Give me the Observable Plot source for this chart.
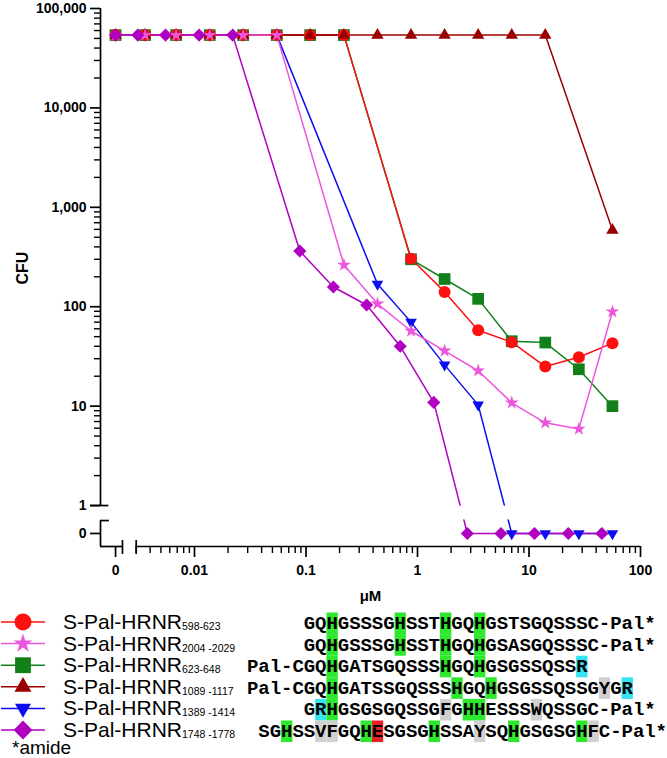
<!DOCTYPE html>
<html><head><meta charset="utf-8">
<script src="https://cdn.jsdelivr.net/npm/d3@7"></script>
<script src="https://cdn.jsdelivr.net/npm/@observablehq/plot@0.6"></script>
<style>
body{margin:0;background:#fff;}
#wrap{width:667px;height:758px;overflow:hidden;background:#fff;}
svg{display:block;}
</style></head><body><div id="wrap"></div>
<script>
// ---------- data ----------
const conc598  = [0, 0.0036, 0.00684, 0.0137, 0.0273, 0.0547, 0.109, 0.219, 0.875, 1.75, 3.5, 7, 14, 28, 56];
const cfu598   = [54000, 54000, 54000, 54000, 54000, 54000, 54000, 54000, 304, 141, 58, 44, 25, 31, 43];
const conc2004 = [0, 0.0036, 0.00684, 0.0137, 0.0273, 0.0547, 0.219, 0.4375, 0.875, 1.75, 3.5, 7, 14, 28, 56];
const cfu2004  = [54000, 54000, 54000, 54000, 54000, 54000, 263, 107, 57, 36, 22.7, 10.8, 6.8, 5.9, 89];
const conc623  = [0, 0.0036, 0.00684, 0.0137, 0.0273, 0.0547, 0.109, 0.219, 0.875, 1.75, 3.5, 7, 14, 28, 56];
const cfu623   = [54000, 54000, 54000, 54000, 54000, 54000, 54000, 54000, 300, 190, 120, 45, 43.6, 23.5, 10];
const conc1089 = [0, 0.0036, 0.00684, 0.0137, 0.0273, 0.0547, 0.109, 0.219, 0.4375, 0.875, 1.75, 3.5, 7, 14, 56];
const cfu1089  = [54000, 54000, 54000, 54000, 54000, 54000, 54000, 54000, 54000, 54000, 54000, 54000, 54000, 54000, 590];
const conc1389 = [0, 0.0036, 0.00684, 0.0137, 0.0273, 0.0547, 0.4375, 0.875, 1.75, 3.5, 7, 14, 28, 56];
const cfu1389  = [54000, 54000, 54000, 54000, 54000, 54000, 169, 70, 26, 10.3, 0, 0, 0, 0];
const conc1748 = [0, 0.0031, 0.0055, 0.011, 0.022, 0.088, 0.176, 0.35, 0.7, 1.4, 2.8, 5.6, 11.2, 22.5, 45];
const cfu1748  = [54000, 54000, 54000, 54000, 54000, 363, 158, 104, 40, 10.9, 0, 0, 0, 0, 0];

const seriesKeys   = ["598", "2004", "623", "1089", "1389", "1748"];
const legendMain   = "S-Pal-HRNR";
const legendSubs   = ["598-623", "2004 -2029", "623-648", "1089 -1117", "1389 -1414", "1748 -1778"];
const seqTexts = [
  "GQHGSSSGHSSTHGQHGSTSGQSSSC-Pal*",
  "GQHGSSSGHSSTHGQHGSASGQSSSC-Pal*",
  "Pal-CGQHGATSGQSSSHGQHGSGSSQSSR",
  "Pal-CGQHGATSSGQSSSHGQHGSGSSQSSGYGR",
  "GRHGSGSGQSSGFGHHESSSWQSSGC-Pal*",
  "SGHSSVFGQHESGSGHSSAYSQHGSGSGHFC-Pal*"
];
const seqStartCol = [5, 5, 0, 0, 5, 1];
// highlighted residues: [row, index in sequence, kind]
const highlights = [
  [0,2,"g"],[0,8,"g"],[0,12,"g"],[0,15,"g"],
  [1,2,"g"],[1,8,"g"],[1,12,"g"],[1,15,"g"],
  [2,7,"g"],[2,17,"g"],[2,20,"g"],[2,29,"c"],
  [3,7,"g"],[3,18,"g"],[3,21,"g"],[3,31,"s"],[3,33,"c"],
  [4,1,"c"],[4,2,"g"],[4,12,"s"],[4,14,"g"],[4,15,"g"],[4,20,"s"],
  [5,2,"g"],[5,5,"s"],[5,6,"s"],[5,9,"g"],[5,10,"r"],[5,15,"g"],[5,19,"s"],[5,22,"g"],[5,28,"g"],[5,29,"s"]
];
const footnote = "*amide";

const xTickValues = [0, 0.01, 0.1, 1, 10, 100];
const xTickLabels = ["0", "0.01", "0.1", "1", "10", "100"];
const yTickValues = [0, 1, 10, 100, 1000, 10000, 100000];
const yTickLabels = ["0", "1", "10", "100", "1,000", "10,000", "100,000"];
const xTitle = "\u03bcM", yTitle = "CFU";

// ---------- styles ----------
const colors = {"598":"#ff1010","2004":"#ee55dd","623":"#12801a","1089":"#9a0000","1389":"#0c0cf0","1748":"#b000c0"};
const triangleDown = {draw(ctx, size){const y=-Math.sqrt(size/(Math.sqrt(3)*3));ctx.moveTo(0,-2*y);ctx.lineTo(-Math.sqrt(3)*y,y);ctx.lineTo(Math.sqrt(3)*y,y);ctx.closePath();}};
const symbols = {"598":"circle","2004":"star","623":"square","1089":"triangle","1389":triangleDown,"1748":"diamond2"};
const radii = {"598":6,"2004":4.3,"623":6.6,"1089":4.6,"1389":4.3,"1748":5.9};
const hlColor = {g:"#2de82d", c:"#35e3f2", s:"#d0d0d0", r:"#e8202a"};

// broken-axis transforms (log with an extra "0" slot)
const X0 = -2.708, Y0 = -0.281;
const tx = c => c === 0 ? X0 : Math.log10(c);
const ty = v => v === 0 ? Y0 : Math.log10(v);
const XMIN = -2.843, XMAX = 2, YMIN = -0.412, YMAX = 5;
const xBreakA = -2.646, xBreakB = Math.log10(0.003), yBreakB = -0.151;

const concs = {"598":conc598,"2004":conc2004,"623":conc623,"1089":conc1089,"1389":conc1389,"1748":conc1748};
const cfus  = {"598":cfu598,"2004":cfu2004,"623":cfu623,"1089":cfu1089,"1389":cfu1389,"1748":cfu1748};
const rows = seriesKeys.flatMap(k => concs[k].map((c,i) => ({k, c, v: cfus[k][i]})));

const xLab = new Map(xTickValues.map((v,i)=>[tx(v), xTickLabels[i]]));
const yLab = new Map(yTickValues.map((v,i)=>[ty(v), yTickLabels[i]]));
const yMinor = []; for (let e=0;e<5;e++) for (let m=2;m<=9;m++) yMinor.push(Math.log10(m*Math.pow(10,e)));
const xMinor = []; for (let m=3;m<=9;m++) xMinor.push(Math.log10(m*0.001));
for (let e=-2;e<2;e++) for (let m=2;m<=9;m++) xMinor.push(Math.log10(m*Math.pow(10,e)));

const drawOrder = ["623","1389","598","1089","2004","1748"];
const font = "'Liberation Sans', Arial, Helvetica, sans-serif";
const SW = 1.7;

const chart = Plot.plot({
  width: 667, height: 607,
  marginLeft: 100, marginRight: 27, marginTop: 8, marginBottom: 61,
  x: {type: "linear", domain: [XMIN, XMAX]},
  y: {type: "linear", domain: [YMIN, YMAX]},
  style: {fontFamily: font, background: "white", color: "black", overflow: "visible"},
  marks: [
    ...drawOrder.map(k => Plot.line(rows.filter(d=>d.k===k), {x: d=>tx(d.c), y: d=>ty(d.v), stroke: colors[k], strokeWidth: 1.5})),
    // gap of the broken y axis
    Plot.rect([0], {x1: XMIN + 0.01, x2: XMAX + 0.3, y1: yBreakB + 0.006, y2: -0.006, fill: "white"}),
    // axis lines
    Plot.ruleX([XMIN], {y1: 0, y2: YMAX, strokeWidth: SW}),
    Plot.ruleX([XMIN], {y1: YMIN, y2: yBreakB, strokeWidth: SW}),
    Plot.ruleY([0], {x1: XMIN - 0.09, x2: XMIN + 0.075, strokeWidth: SW}),
    Plot.ruleY([yBreakB], {x1: XMIN, x2: XMIN + 0.08, strokeWidth: SW}),
    Plot.ruleY([YMIN], {x1: XMIN, x2: xBreakA, strokeWidth: SW}),
    Plot.ruleY([YMIN], {x1: xBreakB, x2: XMAX, strokeWidth: SW}),
    Plot.ruleX([xBreakA, xBreakB], {y1: YMIN - 0.08, y2: YMIN + 0.06, strokeWidth: SW}),
    // ticks
    Plot.axisY([...yLab.keys()], {anchor: "left", tickSize: 10, tickPadding: 4, tickFormat: d => yLab.get(d), fontSize: 14, fontWeight: "bold", label: null, strokeWidth: SW}),
    Plot.axisY(yMinor, {anchor: "left", tickSize: 6, tickFormat: () => "", label: null, strokeWidth: 1.4}),
    Plot.axisX([...xLab.keys()], {anchor: "bottom", tickSize: 11, tickPadding: 8, tickFormat: d => xLab.get(d), fontSize: 14, fontWeight: "bold", label: null, strokeWidth: SW}),
    Plot.axisX(xMinor, {anchor: "bottom", tickSize: 7, tickFormat: () => "", label: null, strokeWidth: 1.4}),
    // axis titles
    Plot.text([xTitle], {frameAnchor: "bottom", dy: 54, lineAnchor: "bottom", fontSize: 15, fontWeight: "bold"}),
    Plot.text([yTitle], {frameAnchor: "left", dx: -78, dy: 7, rotate: -90, fontSize: 16, fontWeight: "bold"}),
    // markers
    ...drawOrder.map(k => Plot.dot(rows.filter(d=>d.k===k), {x: d=>tx(d.c), y: d=>ty(d.v), symbol: symbols[k], r: radii[k], fill: colors[k], stroke: "none"}))
  ]
});

const wrap = document.getElementById("wrap");
wrap.appendChild(chart);

// ---------- legend (below the chart) ----------
const L = d3.create("svg").attr("width", 667).attr("height", 151).style("font-family", font);
const base0 = 22, rowH = 21.6;
const legSizes = {"598":227,"2004":112,"623":250,"1089":125,"1389":111,"1748":225};
const legSym = {"598":d3.symbolCircle,"2004":d3.symbolStar,"623":d3.symbolSquare,"1089":d3.symbolTriangle,"1389":triangleDown,"1748":d3.symbolDiamond2};
seriesKeys.forEach((k,i) => {
  const b = base0 + rowH*i, cy = b - 7;
  L.append("line").attr("x1", 1).attr("x2", 45).attr("y1", cy).attr("y2", cy).attr("stroke", colors[k]).attr("stroke-width", 1.5);
  L.append("path").attr("d", d3.symbol(legSym[k], legSizes[k])()).attr("transform", `translate(23,${cy})`).attr("fill", colors[k]);
  const t = L.append("text").attr("x", 63).attr("y", b).attr("font-size", 21);
  t.append("tspan").text(legendMain);
  t.append("tspan").attr("font-size", 10.5).attr("dy", 1).text(legendSubs[i]);
});
// sequences
const cw = 11.35, seqX = 247;
highlights.forEach(([r, idx, kind]) => {
  const b = base0 + rowH*r;
  L.append("rect").attr("x", seqX + (seqStartCol[r]+idx)*cw).attr("y", b - 16.5).attr("width", cw).attr("height", rowH).attr("fill", hlColor[kind]);
});
seqTexts.forEach((s,r) => {
  const b = base0 + rowH*r;
  const xs = Array.from(s, (_,j) => (seqX + (seqStartCol[r]+j)*cw).toFixed(2)).join(" ");
  L.append("text").attr("x", xs).attr("y", b).attr("font-family", "'Liberation Mono', 'Courier New', monospace")
    .attr("font-weight", "bold").attr("font-size", 19).text(s);
});
L.append("text").attr("x", 12).attr("y", 147).attr("font-size", 19).text(footnote);
wrap.appendChild(L.node());
</script></body></html>
